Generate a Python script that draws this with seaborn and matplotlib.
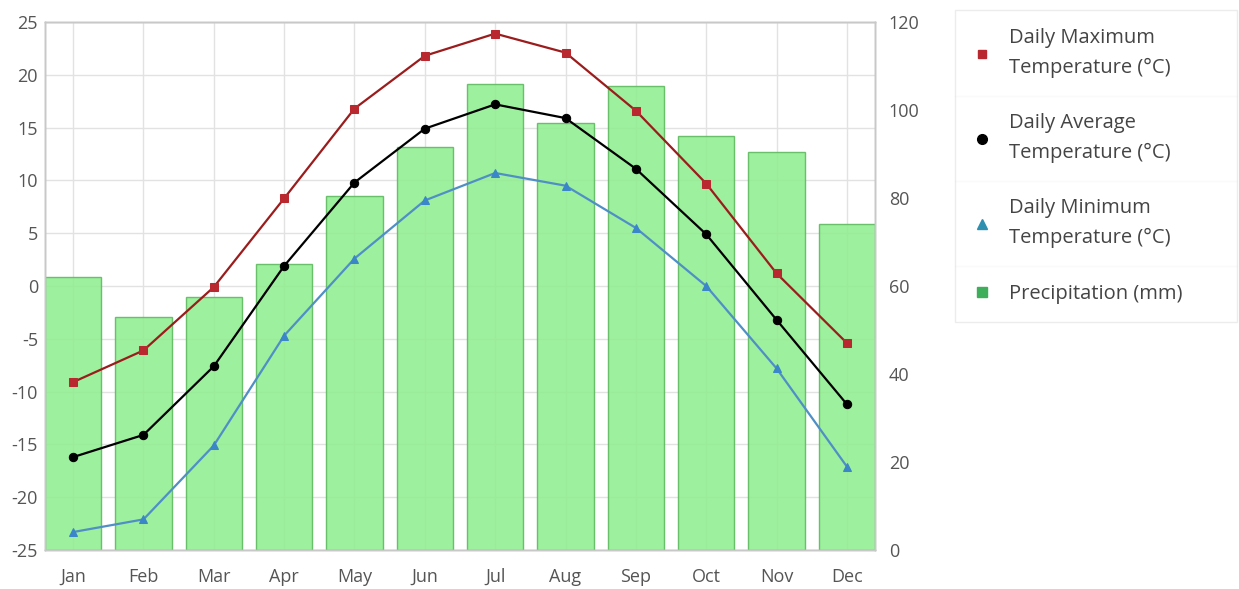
import matplotlib
matplotlib.use("Agg")
import matplotlib.pyplot as plt
import seaborn as sns
import pandas as pd
from matplotlib.lines import Line2D

months = ["Jan", "Feb", "Mar", "Apr", "May", "Jun",
          "Jul", "Aug", "Sep", "Oct", "Nov", "Dec"]
temp_max = [-9.1, -6.1, -0.1, 8.3, 16.8, 21.8, 23.9, 22.1, 16.6, 9.7, 1.2, -5.4]
temp_avg = [-16.2, -14.1, -7.6, 1.9, 9.8, 14.9, 17.2, 15.9, 11.1, 4.9, -3.2, -11.2]
temp_min = [-23.3, -22.1, -15.1, -4.7, 2.6, 8.1, 10.7, 9.5, 5.5, 0.0, -7.8, -17.1]
precip = [62, 53, 57.5, 65, 80.5, 91.5, 106, 97, 105.5, 94, 90.5, 74]

df = pd.DataFrame({"Month": months, "max": temp_max, "avg": temp_avg,
                   "min": temp_min, "precip": precip})

sns.set_style("white")
plt.rcParams["font.family"] = ["Open Sans", "DejaVu Sans"]
plt.rcParams["axes.unicode_minus"] = False

fig = plt.figure(figsize=(12.39, 5.89), dpi=100)
ax = fig.add_axes([45 / 1239, 1 - 550 / 589, 830 / 1239, 528 / 589])
ax2 = ax.twinx()   # precipitation
ax3 = ax.twinx()   # temperature lines on top

# grid lives on the bottom axes so the bars sit over it
ax.grid(True, color="#e2e2e2", linewidth=1)

sns.barplot(data=df, x="Month", y="precip", ax=ax2, color="#90ee90",
            width=0.8, edgecolor="#5cb85c", linewidth=1, alpha=0.88,
            saturation=1)
ax2.set_ylim(0, 120)
ax2.set_yticks(range(0, 121, 20))
ax2.set_ylabel("")

sns.lineplot(data=df, x="Month", y="max", ax=ax3, color="#9b1c1c",
             marker="s", markersize=6, markeredgecolor="#b8282e",
             markerfacecolor="#b8282e", linewidth=1.6, sort=False)
sns.lineplot(data=df, x="Month", y="avg", ax=ax3, color="black",
             marker="o", markersize=6, markeredgecolor="black",
             linewidth=1.6, sort=False)
sns.lineplot(data=df, x="Month", y="min", ax=ax3, color="#4f8fc6",
             marker="^", markersize=6, markeredgecolor="#3a86c8",
             markerfacecolor="#3a86c8", linewidth=1.6, sort=False)
ax3.set_ylim(-25, 25)
ax3.set_yticks([])
ax3.set_ylabel("")
ax3.set_xlabel("")

ax.set_ylim(-25, 25)
ax.set_yticks(range(-25, 26, 5))
ax.set_xticks(range(12))
ax.set_xticklabels(months)
for a in (ax, ax2, ax3):
    a.set_xlim(-0.4, 11.4)
ax.set_xlabel("")
ax2.set_xlabel("")
ax2.grid(False)
ax3.grid(False)
ax3.tick_params(labelbottom=False, length=0)

for a in (ax, ax2, ax3):
    for s in a.spines.values():
        s.set_color("#c8c8c8")
        s.set_linewidth(1)
ax.tick_params(axis="y", length=0, labelsize=13, colors="#555555", pad=5)
ax.tick_params(axis="x", length=0, labelsize=13, colors="#555555", pad=13)
ax2.tick_params(length=0, labelsize=13, colors="#555555", pad=10)
ax2.tick_params(axis="x", labelbottom=False)

# legend outside on the right
handles = [
    Line2D([], [], ls="none", marker="s", color="#b8282e", markersize=6),
    Line2D([], [], ls="none", marker="o", color="black", markersize=7),
    Line2D([], [], ls="none", marker="^", color="#2e8fb0", markersize=7),
    Line2D([], [], ls="none", marker="s", color="#3fae5a", markersize=7),
]
labels = ["Daily Maximum\nTemperature (°C)", "Daily Average\nTemperature (°C)",
          "Daily Minimum\nTemperature (°C)", "Precipitation (mm)"]
leg = fig.legend(handles, labels, loc="upper left", mode="expand",
                 bbox_to_anchor=(955 / 1239, 0, 282 / 1239, 1 - 10 / 589),
                 borderaxespad=0, frameon=True, fancybox=False, fontsize=14.5,
                 labelspacing=1.75, handlelength=0.9, handletextpad=0.9,
                 borderpad=0.9, labelcolor="#444444")
leg.get_frame().set_edgecolor("#e8e8e8")
leg.get_frame().set_linewidth(1)
for t in leg.get_texts():
    t.set_linespacing(1.65)

# thin separators between legend entries
fig.canvas.draw()
r = fig.canvas.get_renderer()
box = leg.get_window_extent(r)
texts = [t.get_window_extent(r) for t in leg.get_texts()]
for upper, lower in zip(texts[:-1], texts[1:]):
    yy = (upper.y0 + lower.y1) / 2 / fig.bbox.height
    fig.add_artist(Line2D([box.x0 / fig.bbox.width, box.x1 / fig.bbox.width],
                          [yy, yy], color="#e8e8e8", linewidth=1))

fig.savefig("out.png", dpi=100)
